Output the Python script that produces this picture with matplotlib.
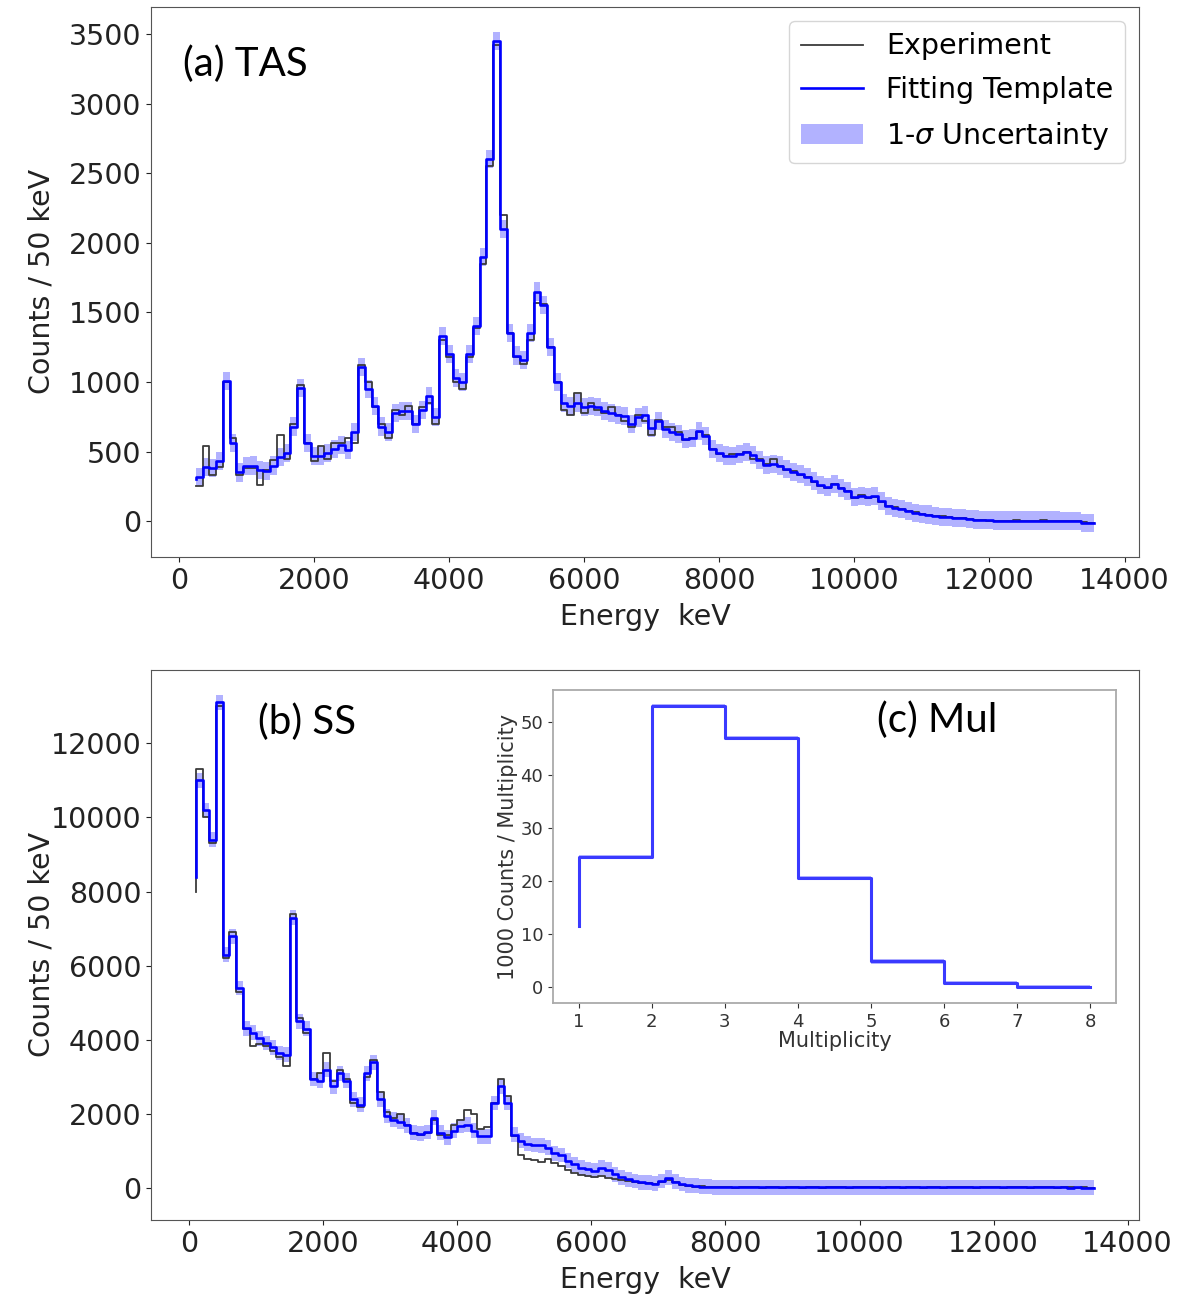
import numpy as np
import matplotlib
matplotlib.use("Agg")
import matplotlib.pyplot as plt

# ---- data ----
# TAS spectrum, 100 keV steps, first value is the step start
tas_edges = np.arange(250, 13600, 100)
tas_fit = [300,
    315, 390, 380, 430, 1010, 560, 350, 395, 400, 365,
    360, 400, 460, 490, 680, 960, 560, 470, 470, 490,
    520, 545, 510, 640, 1110, 950, 830, 680, 640, 780,
    790, 790, 700, 800, 900, 750, 1330, 1200, 1030, 1000,
    1200, 1400, 1900, 2600, 3450, 2100, 1350, 1190, 1160, 1350,
    1650, 1550, 1250, 1000, 850, 830, 850, 820, 830, 820,
    790, 775, 760, 755, 700, 745, 760, 670, 720, 660,
    640, 625, 590, 600, 650, 610, 520, 490, 472, 471,
    480, 494, 475, 440, 405, 410, 400, 378, 355, 340,
    318, 292, 258, 245, 265, 240, 215, 175, 183, 172,
    182, 145, 112, 98, 86, 75, 62, 52, 48, 38,
    33, 30, 26, 22, 16, 12, 8, 6, 5, 5,
    5, 5, 5, 5, 5, 5, 5, 5, 4, 4,
    0, -10, -12]
tas_exp = [250,
    250, 540, 330, 390, 1000, 600, 330, 380, 385, 260,
    370, 440, 620, 450, 700, 980, 560, 430, 540, 450,
    560, 560, 600, 560, 1120, 1000, 820, 700, 600, 800,
    760, 830, 700, 820, 850, 700, 1300, 1180, 1000, 950,
    1180, 1390, 1850, 2550, 3420, 2200, 1350, 1180, 1130, 1300,
    1570, 1560, 1250, 1000, 800, 760, 920, 780, 850, 800,
    780, 820, 760, 720, 680, 760, 720, 620, 730, 680,
    680, 640, 585, 600, 640, 620, 520, 485, 470, 480,
    485, 500, 450, 445, 410, 445, 395, 370, 360, 335,
    320, 285, 250, 240, 270, 235, 220, 170, 185, 165,
    175, 140, 110, 100, 85, 70, 65, 55, 45, 35,
    35, 30, 25, 20, 15, 10, 8, 5, 3, 5,
    4, 6, 5, 4, 5, 6, 4, 5, 5, 3,
    0, -8, -10]
tas_sigma = 65

# SS spectrum
ss_edges = np.arange(100, 13600, 100)
ss_fit = [8400,
    11000, 10200, 9400, 13100, 6300, 6800, 5400, 4320, 4200, 4050,
    3920, 3800, 3650, 3600, 7300, 4500, 4300, 2950, 2900, 3200,
    2750, 3100, 2900, 2400, 2250, 3100, 3400, 2400, 1950, 1850,
    1800, 1700, 1500, 1470, 1520, 1900, 1500, 1380, 1560, 1680,
    1720, 1550, 1400, 1400, 2300, 2750, 2300, 1450, 1280, 1200,
    1170, 1157, 1100, 950, 900, 750, 650, 560, 520, 480,
    560, 500, 380, 300, 250, 200, 170, 150, 126, 200,
    290, 180, 120, 80, 70, 45, 40, 35, 32, 30,
    30, 30, 29, 30, 29, 29, 28, 29, 28, 28,
    28, 28, 27, 28, 27, 27, 27, 27, 27, 26,
    27, 26, 26, 26, 26, 26, 26, 25, 26, 25,
    25, 25, 25, 25, 25, 25, 25, 25, 24, 25,
    24, 24, 24, 24, 24, 24, 24, 24, 24, 24,
    23, 24, 23, 23]
ss_exp = [8000,
    11300, 10000, 9300, 13000, 6200, 6900, 5300, 4300, 3850, 3900,
    3850, 3700, 3550, 3300, 7400, 4600, 4200, 2950, 3100, 3650,
    2900, 3200, 2950, 2300, 2200, 3000, 3450, 2600, 2050, 1900,
    2000, 1700, 1500, 1450, 1500, 1850, 1450, 1450, 1700, 1850,
    2100, 2000, 1600, 1650, 2300, 2950, 2500, 1400, 900, 800,
    760, 720, 800, 680, 600, 500, 420, 360, 330, 300,
    330, 280, 250, 230, 200, 180, 150, 140, 110, 180,
    220, 170, 100, 60, 50, 60, 30, 40, 25, 35,
    20, 35, 25, 30, 15, 28, 32, 22, 30, 25,
    20, 30, 27, 22, 35, 25, 28, 20, 30, 26,
    24, 30, 22, 28, 25, 20, 30, 27, 23, 26,
    28, 22, 25, 30, 24, 27, 22, 26, 25, 28,
    23, 26, 24, 27, 22, 25, 26, 24, 23, 25,
    24, 22, 25, 23]
ss_sigma = 200

# multiplicity
mul = [1, 2, 3, 4, 5, 6, 7, 8]
mul_counts = [11.5, 24.5, 53.0, 47.0, 20.5, 4.8, 0.7, 0.05]
mul_sigma = 0.4

EXP_C = '#3a3a3a'
FIT_C = '#0000ff'
FS = 20.5

def draw_spec(ax, x, exp, fit, sig):
    fit = np.array(fit, dtype=float)
    ax.plot(x, exp, drawstyle='steps-pre', color=EXP_C, lw=1.3, label='Experiment')
    ax.plot(x, fit, drawstyle='steps-pre', color=FIT_C, lw=1.9, label='Fitting Template')
    ax.fill_between(x, fit - sig, fit + sig, step='pre', color=FIT_C, alpha=0.3,
                    lw=0, label='1-$\\sigma$ Uncertainty')

fig = plt.figure(figsize=(11.8, 12.97), dpi=100)
ax1 = fig.add_axes([0.1280, 0.5706, 0.8373, 0.4241])
ax2 = fig.add_axes([0.1280, 0.0594, 0.8373, 0.4241])
axin = fig.add_axes([0.4686, 0.2267, 0.4771, 0.2413])

draw_spec(ax1, tas_edges, tas_exp, tas_fit, tas_sigma)
draw_spec(ax2, ss_edges, ss_exp, ss_fit, ss_sigma)

for ax in (ax1, ax2):
    ax.set_xticks(np.arange(0, 14001, 2000))
    ax.tick_params(labelsize=FS, colors='#222222')
    ax.set_xlabel('Energy  keV', fontsize=FS, color='#222222', labelpad=6)
    ax.set_ylabel('Counts / 50 keV', fontsize=FS, color='#222222')
    ax.yaxis.set_label_coords(-0.097, 0.5)
    for s in ax.spines.values():
        s.set_color('#555555')
ax1.set_yticks(np.arange(0, 3501, 500))
ax2.set_yticks(np.arange(0, 12001, 2000))

leg = ax1.legend(loc='upper right', fontsize=FS, handlelength=2.2, labelspacing=0.55)

ax1.text(0.032, 0.895, '(a) TAS', transform=ax1.transAxes, fontsize=29,
         family='Lato', va='center', ha='left')
ax2.text(0.108, 0.905, '(b) SS', transform=ax2.transAxes, fontsize=29,
         family='Lato', va='center', ha='left')

# inset
mc = np.array(mul_counts)
axin.plot(mul, mc, drawstyle='steps-pre', color=EXP_C, lw=1.0)
axin.fill_between(mul, mc - mul_sigma, mc + mul_sigma, step='pre', color=FIT_C, alpha=0.3, lw=0)
axin.plot(mul, mc, drawstyle='steps-pre', color='#3a3aff', lw=2.2)
axin.set_xticks(mul)
axin.set_yticks([0, 10, 20, 30, 40, 50])
axin.tick_params(labelsize=13, colors='#333333')
axin.set_xlabel('Multiplicity', fontsize=15, color='#333333', labelpad=0)
axin.set_ylabel('1000 Counts / Multiplicity', fontsize=15, color='#333333', labelpad=2)
for s in axin.spines.values():
    s.set_color('#aaaaaa')
    s.set_linewidth(1.3)
axin.text(0.575, 0.905, '(c) Mul', transform=axin.transAxes, fontsize=29,
          family='Lato', va='center', ha='left')

fig.savefig('out.png', dpi=100)
